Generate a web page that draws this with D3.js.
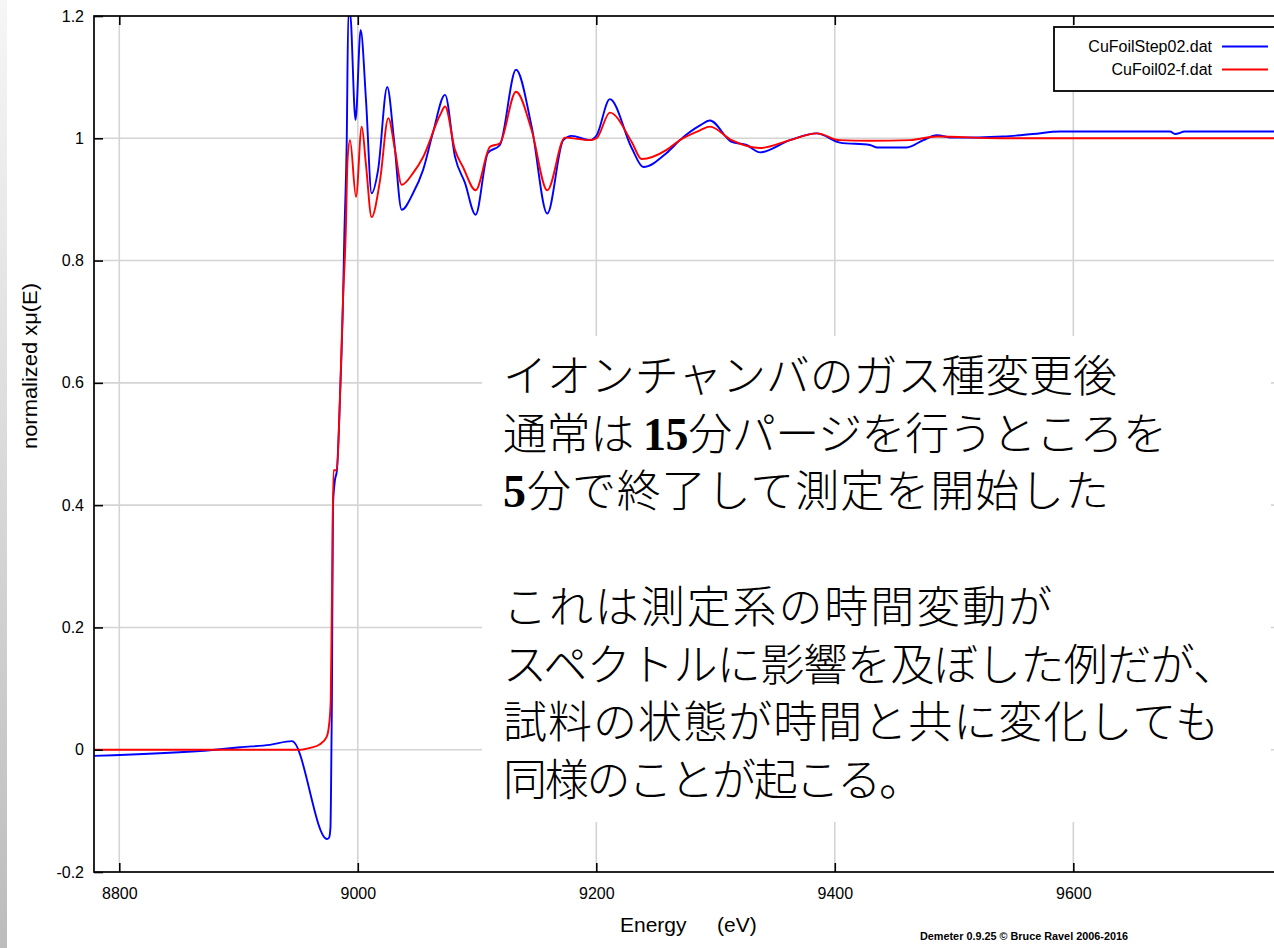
<!DOCTYPE html>
<html>
<head>
<meta charset="utf-8">
<script src="https://cdn.jsdelivr.net/npm/d3@7"></script>
<style>
  html, body { margin: 0; padding: 0; background: #fff; }
  svg { display: block; }
</style>
</head>
<body>
<svg id="chart" width="1274" height="948"></svg>
<script>
// Normalized XAFS spectra of Cu foil (energy in eV, normalized x·mu(E))
const seriesNames = ["CuFoilStep02.dat", "CuFoil02-f.dat"];
const seriesColors = ["#0000ff", "#ff0000"];

const energyStep = [8778.8, 8880.3, 8901.3, 8926.3, 8944.8, 8974.2, 8975.9, 8977.1, 8977.5, 8978.3,
  8979.2, 8980.8, 8982.5, 8985.0, 8987.6, 8988.7, 8990.7, 8992.1, 8993.5, 8998.1,
  9002.4, 9006.9, 9011.6, 9017.0, 9024.7, 9030.4, 9036.8, 9046.3, 9054.7, 9063.0,
  9073.2, 9081.5, 9089.9, 9098.8, 9109.1, 9119.2, 9132.7, 9145.8, 9158.9, 9172.3,
  9179.3, 9194.7, 9200.3, 9211.4, 9229.7, 9239.4, 9259.0, 9270.1, 9287.0, 9295.3,
  9313.5, 9326.1, 9337.3, 9362.5, 9384.9, 9404.3, 9429.5, 9435.1, 9460.3, 9474.2,
  9485.4, 9499.2, 9541.0, 9566.2, 9588.9, 9681.1, 9685.3, 9693.6, 9790.0];
const muStep = [-0.010, 0.000, 0.004, 0.008, 0.014, -0.146, -0.144, -0.127, -0.077, 0.081,
  0.400, 0.440, 0.457, 0.572, 0.735, 0.839, 0.992, 1.205, 1.205, 1.030,
  1.177, 1.062, 0.910, 0.948, 1.084, 0.997, 0.883, 0.910, 0.948, 1.009,
  1.071, 0.970, 0.927, 0.875, 0.976, 0.989, 1.112, 1.019, 0.877, 0.997,
  1.004, 0.997, 1.005, 1.064, 0.984, 0.953, 0.976, 0.997, 1.021, 1.029,
  0.994, 0.989, 0.977, 0.997, 1.008, 0.993, 0.989, 0.985, 0.985, 0.997,
  1.005, 1.001, 1.003, 1.007, 1.011, 1.011, 1.007, 1.011, 1.011];

const energyRef = [8778.8, 8951.5, 8960.0, 8968.3, 8973.9, 8976.1, 8977.3, 8978.3, 8979.6, 8982.5,
  8985.0, 8987.6, 8989.9, 8991.4, 8993.5, 8998.5, 9003.3, 9006.9, 9011.6, 9018.7,
  9025.6, 9031.2, 9036.8, 9046.3, 9054.7, 9069.0, 9073.2, 9081.5, 9088.2, 9098.8,
  9110.9, 9119.2, 9132.7, 9145.8, 9158.9, 9173.7, 9194.7, 9200.3, 9211.4, 9229.7,
  9238.0, 9259.0, 9270.1, 9287.0, 9295.3, 9313.5, 9337.3, 9362.5, 9384.9, 9404.3,
  9429.5, 9463.0, 9485.4, 9538.6, 9790.0];
const muRef = [0.000, 0.000, 0.003, 0.009, 0.021, 0.044, 0.081, 0.245, 0.457, 0.457,
  0.572, 0.735, 0.845, 0.964, 0.997, 0.904, 1.019, 0.956, 0.871, 0.932,
  1.033, 0.981, 0.924, 0.943, 0.969, 1.038, 1.052, 0.981, 0.953, 0.915,
  0.986, 0.992, 1.076, 1.013, 0.915, 1.001, 0.997, 1.000, 1.042, 0.994,
  0.966, 0.981, 0.997, 1.013, 1.019, 0.997, 0.984, 0.997, 1.008, 0.997,
  0.996, 0.997, 1.003, 1.000, 1.000];

const xTicks = [8800, 9000, 9200, 9400, 9600];
const yTicks = [-0.2, 0, 0.2, 0.4, 0.6, 0.8, 1, 1.2];
const xDomain = [8778.8, 9790.1];
const yDomain = [-0.2, 1.2];

const noteLines = [
  ["イオンチャンバのガス種変更後"],
  ["通常は ", {num: "15"}, "分パージを行うところを"],
  [{num: "5"}, "分で終了して測定を開始した"],
  [],
  ["これは測定系の時間変動が"],
  ["スペクトルに影響を及ぼした例だが、"],
  ["試料の状態が時間と共に変化しても"],
  ["同様のことが起こる。"]
];
const noteWidths = [614, 664, 606, 0, 549, 734, 716, 420];

const xTitle = ["Energy", "(eV)"];
const yTitle = "normalized xμ(E)";
const credit = "Demeter 0.9.25 © Bruce Ravel 2006-2016";

// ---------------------------------------------------------------
const svg = d3.select("#chart");
const W = 1274, H = 948;
const plot = {left: 94, top: 16, right: 1300, bottom: 872};

const defs = svg.append("defs");
const grad = defs.append("linearGradient").attr("id", "edgeShade")
  .attr("x1", 0).attr("y1", 0).attr("x2", 0).attr("y2", 1);
grad.append("stop").attr("offset", "0%").attr("stop-color", "#f6f6f6");
grad.append("stop").attr("offset", "100%").attr("stop-color", "#bcbcbc");
defs.append("clipPath").attr("id", "plotClip").append("rect")
  .attr("x", plot.left).attr("y", plot.top)
  .attr("width", plot.right - plot.left).attr("height", plot.bottom - plot.top);

svg.append("rect").attr("width", W).attr("height", H).attr("fill", "#fff");
svg.append("rect").attr("x", 0).attr("y", 0).attr("width", 7).attr("height", H)
  .attr("fill", "url(#edgeShade)");

const x = d3.scaleLinear().domain(xDomain).range([plot.left, plot.right]);
const y = d3.scaleLinear().domain(yDomain).range([plot.bottom, plot.top]);

// grid
const grid = svg.append("g").attr("stroke", "#d4d4d4").attr("stroke-width", 1.6);
grid.selectAll("line.gx").data(xTicks).join("line")
  .attr("x1", d => x(d)).attr("x2", d => x(d))
  .attr("y1", plot.top).attr("y2", plot.bottom);
grid.selectAll("line.gy").data(yTicks.slice(1, -1)).join("line")
  .attr("x1", plot.left).attr("x2", plot.right)
  .attr("y1", d => y(d)).attr("y2", d => y(d));

// spectra
const line = d3.line().x(d => x(d[0])).y(d => y(d[1])).curve(d3.curveMonotoneX);
const series = [
  d3.zip(energyStep, muStep),
  d3.zip(energyRef, muRef)
];
const curves = svg.append("g").attr("clip-path", "url(#plotClip)");
series.forEach((pts, i) => {
  curves.append("path").datum(pts)
    .attr("d", line)
    .attr("fill", "none")
    .attr("stroke", seriesColors[i])
    .attr("stroke-width", 1.9)
    .attr("stroke-linejoin", "round");
});

// axes
const tickFont = "'Liberation Sans', Arial, sans-serif";
const yFmt = d => d === 0 ? "0" : String(+d.toFixed(1));

const gBottom = svg.append("g").attr("transform", `translate(0,${plot.bottom})`)
  .call(d3.axisBottom(x).tickValues(xTicks).tickFormat(d3.format("d"))
    .tickSizeInner(-9).tickSizeOuter(0).tickPadding(15.6));
const gTop = svg.append("g").attr("transform", `translate(0,${plot.top})`)
  .call(d3.axisTop(x).tickValues(xTicks).tickFormat("")
    .tickSizeInner(-9).tickSizeOuter(0));
const gLeft = svg.append("g").attr("transform", `translate(${plot.left},0)`)
  .call(d3.axisLeft(y).tickValues(yTicks).tickFormat(yFmt)
    .tickSizeInner(-9).tickSizeOuter(0).tickPadding(10));
[gBottom, gTop, gLeft].forEach(g => {
  g.select(".domain").remove();
  g.selectAll(".tick line").attr("stroke", "#000").attr("stroke-width", 1.6);
  g.selectAll(".tick text").attr("fill", "#000")
    .style("font-family", tickFont).style("font-size", "16px");
});

// frame
svg.append("rect")
  .attr("x", plot.left).attr("y", plot.top)
  .attr("width", plot.right - plot.left).attr("height", plot.bottom - plot.top)
  .attr("fill", "none").attr("stroke", "#000").attr("stroke-width", 1.7);

// axis titles
svg.append("text").attr("x", 620).attr("y", 932)
  .style("font-family", tickFont).style("font-size", "21px").text(xTitle[0]);
svg.append("text").attr("x", 717).attr("y", 932)
  .style("font-family", tickFont).style("font-size", "21px").text(xTitle[1]);
svg.append("text")
  .attr("transform", "translate(37,366) rotate(-90)")
  .attr("text-anchor", "middle")
  .attr("textLength", 166).attr("lengthAdjust", "spacingAndGlyphs")
  .style("font-family", tickFont).style("font-size", "20px").text(yTitle);

svg.append("text").attr("x", 920).attr("y", 940)
  .attr("textLength", 208).attr("lengthAdjust", "spacingAndGlyphs")
  .style("font-family", tickFont).style("font-size", "10px").style("font-weight", "bold")
  .text(credit);

// legend
const legend = svg.append("g");
legend.append("rect").attr("x", 1054).attr("y", 27).attr("width", 260).attr("height", 64)
  .attr("fill", "#fff").attr("stroke", "#000").attr("stroke-width", 1.8);
seriesNames.forEach((name, i) => {
  const ly = 46.5 + i * 23;
  legend.append("text").attr("x", 1212).attr("y", ly + 5.8)
    .attr("text-anchor", "end")
    .style("font-family", tickFont).style("font-size", "16px").text(name);
  legend.append("line").attr("x1", 1222).attr("x2", 1268)
    .attr("y1", ly).attr("y2", ly)
    .attr("stroke", seriesColors[i]).attr("stroke-width", 1.8);
});

// annotation block
svg.append("rect").attr("x", 482).attr("y", 336).attr("width", 789).attr("height", 486)
  .attr("fill", "#fff");
const note = svg.append("g")
  .style("font-family", "'Noto Sans CJK JP', 'Noto Sans CJK SC', sans-serif")
  .style("font-size", "44px").style("font-weight", 300).attr("fill", "#000");
noteLines.forEach((parts, i) => {
  if (!parts.length) return;
  const t = note.append("text").attr("x", 503).attr("y", 392 + i * 57.7)
    .attr("textLength", noteWidths[i]).attr("lengthAdjust", "spacing");
  parts.forEach(p => {
    if (typeof p === "string") t.append("tspan").text(p);
    else t.append("tspan")
      .style("font-family", "'Liberation Serif', 'DejaVu Serif', serif")
      .style("font-weight", "bold").style("font-size", "46px").text(p.num);
  });
});
</script>
</body>
</html>
